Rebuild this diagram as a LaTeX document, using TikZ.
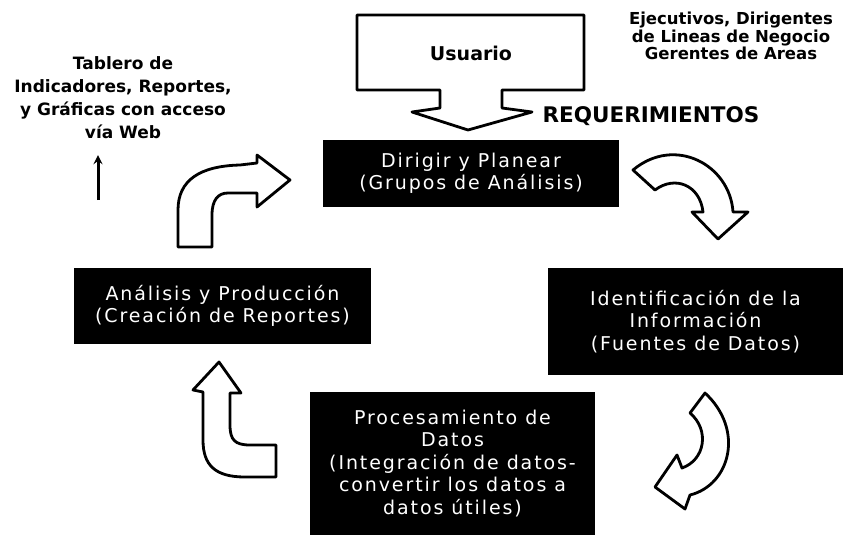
\documentclass[tikz,border=0pt]{standalone}
\usepackage{fontspec}
\setmainfont{DejaVu Sans}
\newfontfamily\cajafont[LetterSpace=10]{DejaVu Sans}
\usetikzlibrary{arrows}
\tikzstyle{proceso} = [rectangle, fill=black, text=white, text centered, align=center, inner sep=2pt, font=\cajafont\fontsize{19}{22.5}\selectfont]
\tikzstyle{rotulo} = [align=center, font=\bfseries\fontsize{17}{23}\selectfont]
\tikzstyle{flecha} = [draw=black, line width=2.8pt, fill=white, line join=round]
\tikzstyle{arrow} = [line width=3pt,->,>=stealth]

\begin{document}
\begin{tikzpicture}[x=1pt, y=-1pt, node distance=148pt]
\useasboundingbox (0,0) rectangle (843,544);

\path[flecha] (357,15) -- (584,15) -- (584,90) -- (502,90) -- (502,108) -- (532,112) -- (468,130) -- (412,112) -- (440,108) -- (440,90) -- (357,90) -- cycle;
\node (usuario) [font=\bfseries\fontsize{19}{22}\selectfont] at (471,53) {Usuario};
\node (requerimientos) [rotulo, font=\bfseries\fontsize{21.5}{24}\selectfont] at (651,116) {REQUERIMIENTOS};
\node (ejecutivos) [rotulo, font=\bfseries\fontsize{16.5}{17.5}\selectfont] at (731,36) {Ejecutivos, Dirigentes\\de Lineas de Negocio\\Gerentes de Areas};
\node (tablero) [rotulo] at (123,98) {Tablero de\\Indicadores, Reportes,\\y Gráficas con acceso\\vía Web};

\node (dirigir) [proceso, minimum width=296pt, minimum height=67pt] at (471,173.5) {Dirigir y Planear\\(Grupos de Análisis)};
\node (identificacion) [proceso, minimum width=295pt, minimum height=107pt, below of=dirigir, xshift=224.5pt] {Identificación de la\\Información\\(Fuentes de Datos)};
\node (analisis) [proceso, minimum width=297pt, minimum height=76pt, below of=dirigir, xshift=-248.5pt, yshift=15.5pt] {Análisis y Producción\\(Creación de Reportes)};
\node (procesamiento) [proceso, minimum width=285pt, minimum height=143pt, below of=dirigir, xshift=-18.5pt, yshift=-142pt] {Procesamiento de\\Datos\\(Integración de datos-\\convertir los datos a\\datos útiles)};

\coordinate (pie) at (98,200);
\coordinate (punta) at (98,155);
\draw [arrow] (pie) -- (punta);

\path[flecha] (178,247) -- (178,210) .. controls (178,180) and (200,166) .. (240,165) -- (257,163) -- (257,155) -- (290,180) -- (257,207) -- (257,193) -- (228,193) .. controls (218,193) and (212,200) .. (212,215) -- (212,247) -- cycle;
\path[flecha] (633,170) -- (655,190) .. controls (675,175) and (700,185) .. (703,212) -- (692,212) -- (718,239) -- (748,212) -- (733,212) .. controls (730,165) and (675,135) .. cycle;
\path[flecha] (705,393) -- (690,413) .. controls (710,430) and (705,460) .. (682,468) -- (677,455) -- (655,487) -- (685,509) -- (690,495) .. controls (730,485) and (745,430) .. cycle;
\path[flecha] (219,362) -- (241,393) -- (230,393) -- (230,425) .. controls (230,440) and (235,445) .. (250,445) -- (276,445) -- (276,477) -- (245,477) .. controls (215,477) and (203,465) .. (203,440) -- (203,392) -- (193,390) -- cycle;

\end{tikzpicture}
\end{document}
